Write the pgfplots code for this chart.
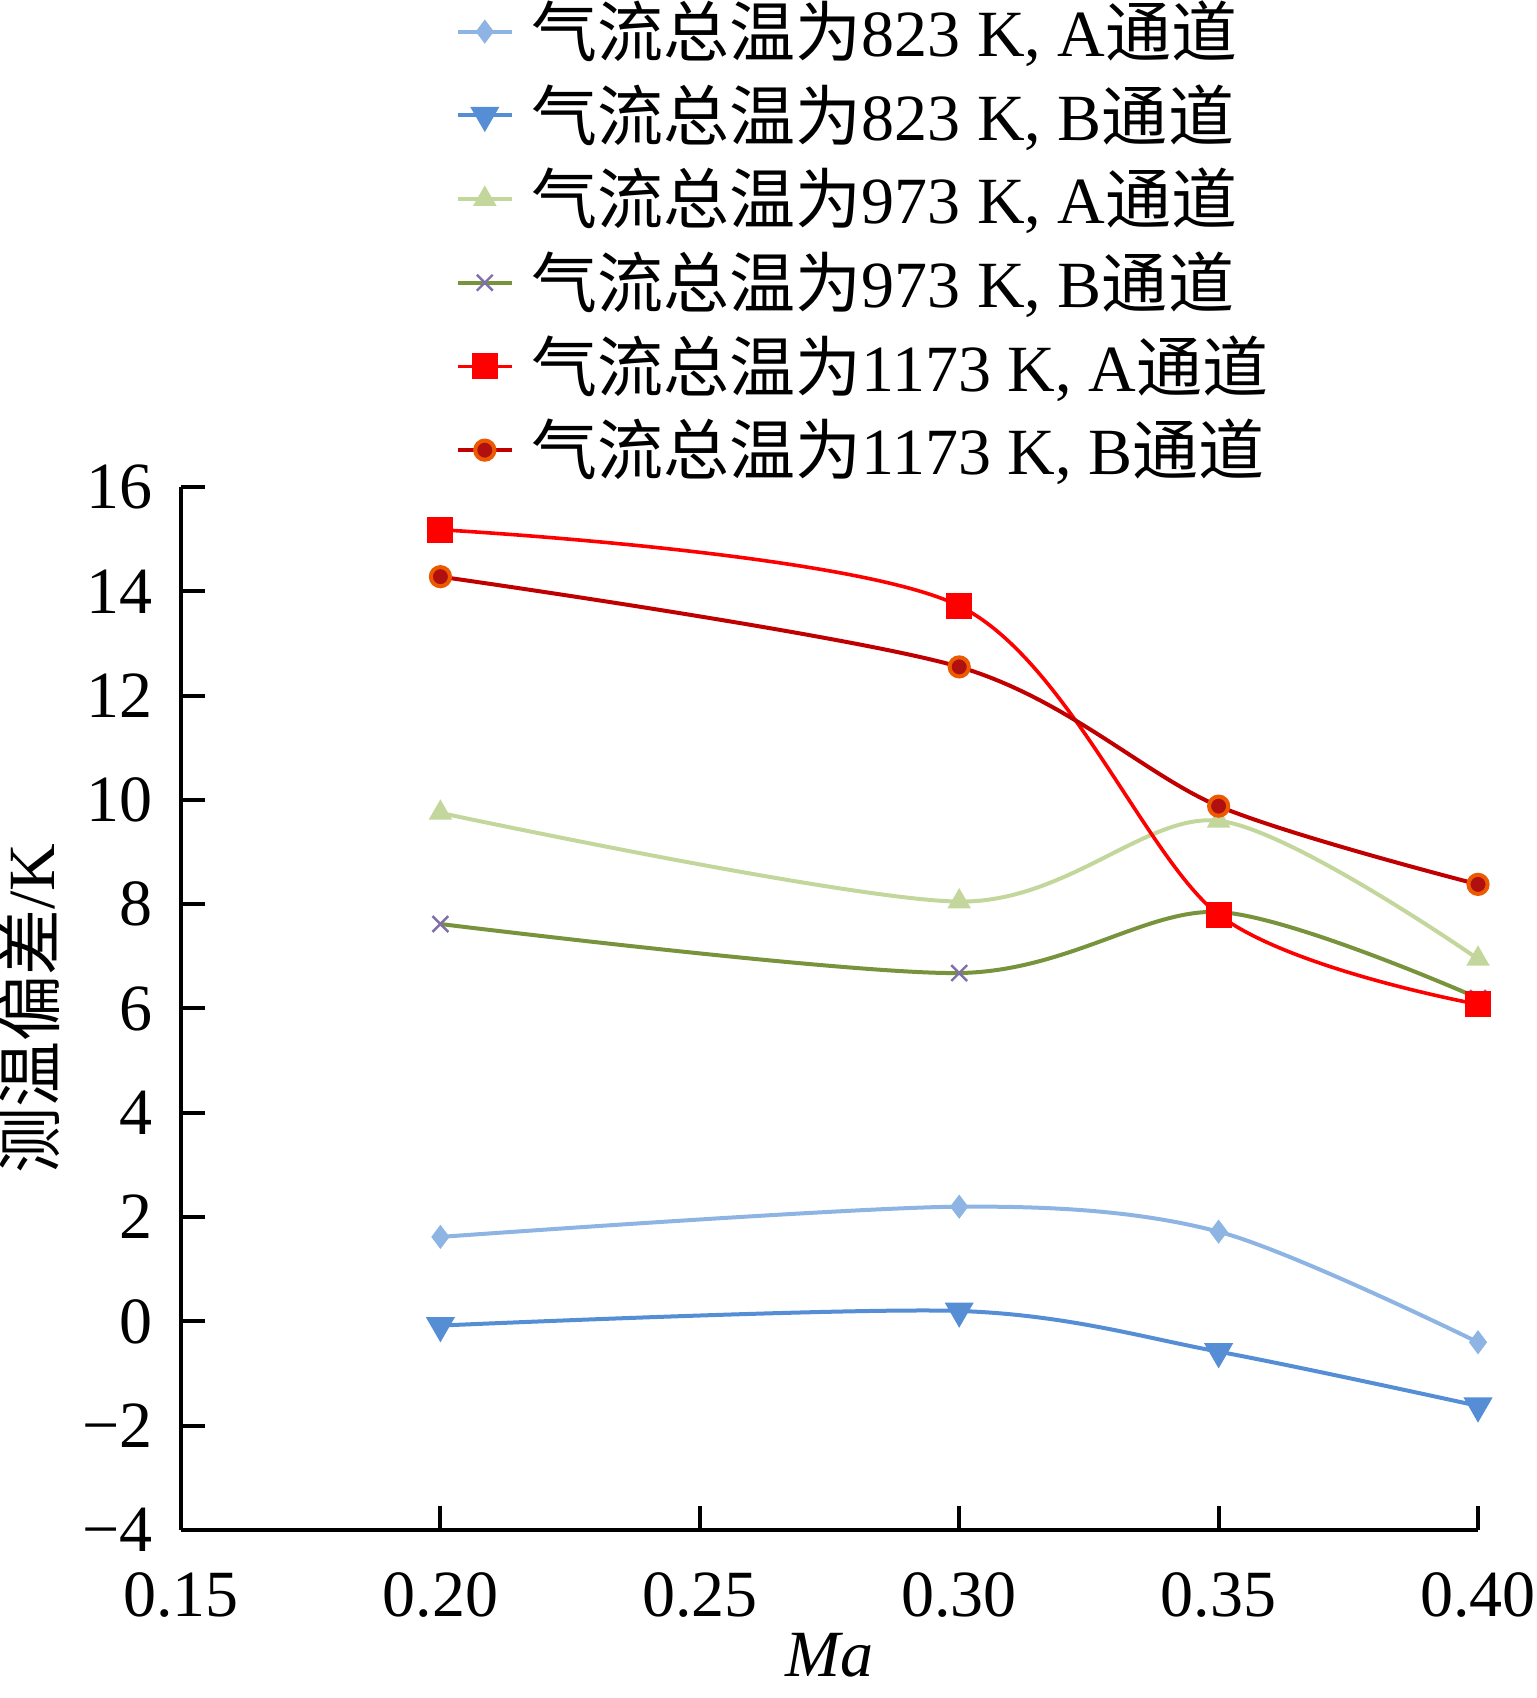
\documentclass[border=0pt]{standalone}
\usepackage{pgfplots}
\pgfplotsset{compat=1.18}
\usepackage{fontspec}
\setmainfont{Liberation Serif}
\newfontfamily\cjk{Noto Sans CJK SC}
\definecolor{cA}{HTML}{8DB4E2}
\definecolor{cB}{HTML}{558ED5}
\definecolor{cC}{HTML}{C3D69B}
\definecolor{cD}{HTML}{77933C}
\definecolor{cDm}{HTML}{7F6FAA}
\definecolor{cE}{HTML}{FF0000}
\definecolor{cF}{HTML}{C00000}
\definecolor{cFm}{HTML}{B01010}
\begin{document}
\begin{tikzpicture}
\path[use as bounding box] (-45.25pt,-42pt) rectangle (339pt,382.5pt);
\begin{axis}[
  scale only axis, width=324.25pt, height=260.75pt,
  xmin=0.15, xmax=0.40, ymin=-4, ymax=16,
  axis x line*=bottom, axis y line*=left,
  axis line style={line width=1pt, -},
  xtick={0.15,0.20,0.25,0.30,0.35,0.40},
  xticklabels={0.15,0.20,0.25,0.30,0.35,0.40},
  ytick={-4,-2,0,2,4,6,8,10,12,14,16},
  yticklabels={−4,−2,0,2,4,6,8,10,12,14,16},
  tick align=inside,
  major tick length=6pt,
  tick style={line width=1pt, black},
  ticklabel style={font=\fontsize{16.5pt}{18pt}\selectfont},
  xticklabel style={yshift=-7pt},
  yticklabel style={xshift=-3.5pt},
  xlabel={\textit{Ma}}, ylabel={{\cjk 测温偏差}/K},
  label style={font=\fontsize{16.5pt}{18pt}\selectfont},
  xlabel style={yshift=0.5pt, inner sep=1pt},
  ylabel style={yshift=-1pt},
  legend style={at={(68.5pt,384.5pt)}, anchor=north west, draw=none, fill=none,
    font=\fontsize{16.5pt}{18pt}\selectfont, row sep=1.5pt,
    legend cell align=left, inner sep=0pt,
    nodes={inner xsep=4.5pt}},
  legend image code/.code={\draw[mark repeat=2,mark phase=2] plot coordinates {(0pt,0pt) (6.75pt,0pt) (13.5pt,0pt)};},
  every axis plot/.append style={smooth, tension=0.5},
]
\addplot[color=cA, line width=1pt, mark=diamond*, mark size=2.2pt, mark options={fill=cA, draw=cA}]
 coordinates {(0.20,1.62) (0.30,2.2) (0.35,1.72) (0.40,-0.4)};
\addlegendentry{{\cjk 气流总温为}823 K, A{\cjk 通道}}
\addplot[color=cB, line width=1pt, mark=triangle*, mark size=3.2pt, mark options={rotate=180, fill=cB, draw=cB}]
 coordinates {(0.20,-0.08) (0.30,0.2) (0.35,-0.58) (0.40,-1.62)};
\addlegendentry{{\cjk 气流总温为}823 K, B{\cjk 通道}}
\addplot[color=cC, line width=1pt, mark=triangle*, mark size=2.4pt, mark options={fill=cC, draw=cC}]
 coordinates {(0.20,9.75) (0.30,8.05) (0.35,9.6) (0.40,6.95)};
\addlegendentry{{\cjk 气流总温为}973 K, A{\cjk 通道}}
\addplot[color=cD, line width=1pt, mark=x, mark size=2.8pt, mark options={draw=cDm, line width=0.6pt}]
 coordinates {(0.20,7.62) (0.30,6.68) (0.35,7.85) (0.40,6.2)};
\addlegendentry{{\cjk 气流总温为}973 K, B{\cjk 通道}}
\addplot[color=cE, line width=0.9pt, mark=square*, mark size=2.8pt, mark options={fill=cE, draw=cE}]
 coordinates {(0.20,15.18) (0.30,13.72) (0.35,7.8) (0.40,6.08)};
\addlegendentry{{\cjk 气流总温为}1173 K, A{\cjk 通道}}
\addplot[color=cF, line width=1pt, mark=*, mark size=2.4pt, mark options={fill=cFm, draw=orange!70!cF}]
 coordinates {(0.20,14.28) (0.30,12.55) (0.35,9.88) (0.40,8.38)};
\addlegendentry{{\cjk 气流总温为}1173 K, B{\cjk 通道}}
\end{axis}
\end{tikzpicture}
\end{document}
